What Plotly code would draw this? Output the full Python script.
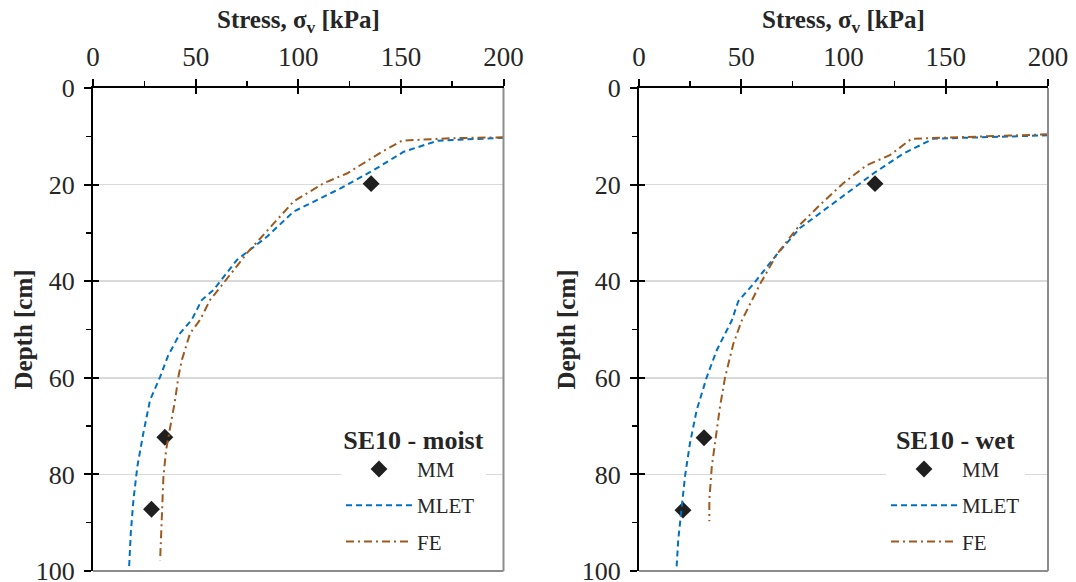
import plotly.graph_objects as go

# ---------------- data ----------------
# SE10 - moist (left panel)
moist_mm_stress = [135.5, 35.0, 28.5]
moist_mm_depth = [19.8, 72.3, 87.2]

moist_mlet_stress = [200, 185, 168, 151.4, 136.7, 120.5, 97.7, 84.7, 70.1, 58.7, 53.0, 48.1,
                     42.4, 36.5, 32.7, 27.8, 24.5, 21.6, 19.7, 18.4, 17.5]
moist_mlet_depth = [10.3, 10.6, 10.9, 13.2, 17.0, 20.8, 25.6, 30.8, 35.6, 41.8, 43.9, 48.0,
                    50.8, 55.5, 59.8, 64.6, 71.5, 78.4, 85.3, 92.2, 100.0]

moist_fe_stress = [200, 175, 150.6, 140.8, 123.7, 112.4, 97.7, 84.7, 75.0, 63.6, 57.0, 52.2,
                   47.3, 43.3, 41.6, 40.0, 37.6, 35.6, 34.3, 33.5, 32.7]
moist_fe_depth = [10.2, 10.4, 10.9, 13.2, 17.7, 19.7, 23.5, 29.7, 34.2, 40.4, 43.9, 48.0,
                  50.8, 56.3, 59.8, 64.6, 70.2, 75.0, 80.6, 88.9, 97.8]

# SE10 - wet (right panel)
wet_mm_stress = [115.4, 31.8, 21.5]
wet_mm_depth = [19.8, 72.4, 87.4]

wet_mlet_stress = [200, 170, 143.9, 129.2, 114.6, 104.8, 91.8, 78.7, 67.3, 55.9, 48.6, 45.3,
                   38.0, 33.1, 28.2, 24.9, 22.5, 20.9, 19.2, 18.4, 18.2]
wet_mlet_depth = [9.8, 10.1, 10.5, 13.6, 17.7, 20.8, 24.9, 29.0, 34.5, 40.6, 44.1, 48.2,
                  54.3, 59.9, 66.7, 73.6, 80.4, 86.6, 93.5, 99.0, 100.0]

wet_fe_stress = [200, 165, 133.3, 122.7, 111.3, 99.9, 88.5, 78.7, 67.3, 59.2, 55.1, 50.2,
                 46.1, 42.1, 39.6, 37.2, 35.6, 34.4, 34.4]
wet_fe_depth = [9.6, 10.0, 10.5, 13.9, 16.0, 19.7, 24.2, 28.3, 34.5, 40.6, 44.1, 48.2,
                53.0, 59.9, 66.0, 72.9, 78.4, 85.2, 89.7]

x_ticks = [0, 50, 100, 150, 200]
y_ticks = [0, 20, 40, 60, 80, 100]
panel_titles = ["SE10 - moist", "SE10 - wet"]

# ---------------- style ----------------
FONT = "Liberation Serif"
TXT = "#262626"
BLUE = "#0070C0"
BROWN = "#9E5A1E"
MARK = "#1f1f1f"
W, H = 1076, 582

fig = go.Figure()

panels = [
    ("x", "y", "legend", moist_mm_stress, moist_mm_depth, moist_mlet_stress, moist_mlet_depth,
     moist_fe_stress, moist_fe_depth),
    ("x2", "y2", "legend2", wet_mm_stress, wet_mm_depth, wet_mlet_stress, wet_mlet_depth,
     wet_fe_stress, wet_fe_depth),
]

for xa, ya, lg, mms, mmd, mls, mld, fes, fed in panels:
    fig.add_trace(go.Scatter(x=mms, y=mmd, mode="markers", name="MM", xaxis=xa, yaxis=ya,
                             legend=lg, legendgroup=lg + "a",
                             marker=dict(symbol="diamond", size=13, color=MARK)))
    fig.add_trace(go.Scatter(x=mls, y=mld, mode="lines", name="MLET", xaxis=xa, yaxis=ya,
                             legend=lg, legendgroup=lg + "b",
                             line=dict(color=BLUE, width=2, dash="6px,4px")))
    fig.add_trace(go.Scatter(x=fes, y=fed, mode="lines", name="FE", xaxis=xa, yaxis=ya,
                             legend=lg, legendgroup=lg + "c",
                             line=dict(color=BROWN, width=2, dash="8px,4px,2px,4px")))

# empty helper traces so that the overlay (inside-tick) axes get drawn
for xa, ya in [("x3", "y"), ("x", "y3"), ("x4", "y2"), ("x2", "y4")]:
    fig.add_trace(go.Scatter(x=[None], y=[None], xaxis=xa, yaxis=ya, mode="lines",
                             showlegend=False, hoverinfo="skip"))

dom_l = [93 / W, 503.5 / W]
dom_r = [639 / W, 1048 / W]
dom_y = [1 - 571 / H, 1 - 88 / H]

def xax(dom):
    return dict(domain=dom, range=[0, 200], side="top", tickvals=x_ticks, automargin=False,
                ticks="outside", ticklen=7, tickwidth=2, tickcolor="black",
                showline=True, linecolor="black", linewidth=2, showgrid=False, zeroline=False,
                minor=dict(tickvals=[25, 75, 125, 175], ticks="outside", ticklen=5,
                           tickwidth=1.5, tickcolor="black"),
                tickfont=dict(family=FONT, size=27, color=TXT), ticklabelstandoff=2,
                ticklabeloverflow="allow", fixedrange=True)

def yax(dom):
    return dict(domain=dom, range=[100, 0], tickvals=y_ticks, automargin=False,
                ticks="outside", ticklen=7, tickwidth=2, tickcolor="black",
                showline=True, linecolor="black", linewidth=2,
                showgrid=True, gridcolor="#d9d9d9", gridwidth=1.5, zeroline=False,
                minor=dict(tickvals=[10, 30, 50, 70, 90], ticks="outside", ticklen=5,
                           tickwidth=1.5, tickcolor="black"),
                tickfont=dict(family=FONT, size=26, color=TXT), ticklabelstandoff=4,
                ticklabeloverflow="allow", fixedrange=True)

def xin(over, anchor):
    return dict(overlaying=over, anchor=anchor, side="top", range=[0, 200], automargin=False,
                tickvals=x_ticks, ticks="inside", ticklen=6, tickwidth=2, tickcolor="black",
                showticklabels=False, showgrid=False, zeroline=False, showline=False,
                fixedrange=True)

def yin(over, anchor):
    return dict(overlaying=over, anchor=anchor, side="left", range=[100, 0], automargin=False,
                tickvals=y_ticks, ticks="inside", ticklen=6, tickwidth=2, tickcolor="black",
                showticklabels=False, showgrid=False, zeroline=False, showline=False,
                fixedrange=True)

def leg(x0, title):
    return dict(x=x0, y=1 - 415 / H, xanchor="left", yanchor="top", bgcolor="white",
                font=dict(family=FONT, size=21, color=TXT), itemwidth=66,
                tracegroupgap=6,
                title=dict(text="<b>" + title + "</b>", side="top center",
                           font=dict(family=FONT, size=26, color=TXT)))

fig.update_layout(
    width=W, height=H, margin=dict(l=0, r=0, t=0, b=0, autoexpand=False),
    paper_bgcolor="white", plot_bgcolor="white",
    xaxis=dict(xax(dom_l), anchor="y"),
    yaxis=dict(yax(dom_y), anchor="x"),
    xaxis2=dict(xax(dom_r), anchor="y2"),
    yaxis2=dict(yax(dom_y), anchor="x2"),
    xaxis3=xin("x", "y"),
    yaxis3=yin("y", "x"),
    xaxis4=xin("x2", "y2"),
    yaxis4=yin("y2", "x2"),
    legend=leg(341 / W, panel_titles[0]),
    legend2=leg(886 / W, panel_titles[1]),
    showlegend=True,
)

# gray right / bottom frame lines
for xr, yr in [("x domain", "y domain"), ("x2 domain", "y2 domain")]:
    fig.add_shape(type="line", xref=xr, yref=yr, x0=1, x1=1, y0=0, y1=1,
                  line=dict(color="#8c8c8c", width=2), layer="above")
    fig.add_shape(type="line", xref=xr, yref=yr, x0=0, x1=1, y0=0, y1=0,
                  line=dict(color="#8c8c8c", width=2), layer="above")

# axis titles
for cx in [(dom_l[0] + dom_l[1]) / 2, (dom_r[0] + dom_r[1]) / 2]:
    fig.add_annotation(text="<b>Stress, σ<sub>v</sub> [kPa]</b>", xref="paper", yref="paper",
                       x=cx, y=1 - 22 / H, xanchor="center", yanchor="middle", showarrow=False,
                       font=dict(family=FONT, size=25, color=TXT))
for cx in [23 / W, 566 / W]:
    fig.add_annotation(text="<b>Depth [cm]</b>", xref="paper", yref="paper",
                       x=cx, y=(dom_y[0] + dom_y[1]) / 2, xanchor="center", yanchor="middle",
                       textangle=-90, showarrow=False,
                       font=dict(family=FONT, size=25, color=TXT))

fig.write_html("out.html", config={"displayModeBar": False, "staticPlot": True},
               post_script="document.body.style.margin='0';document.body.style.overflow='hidden';")
